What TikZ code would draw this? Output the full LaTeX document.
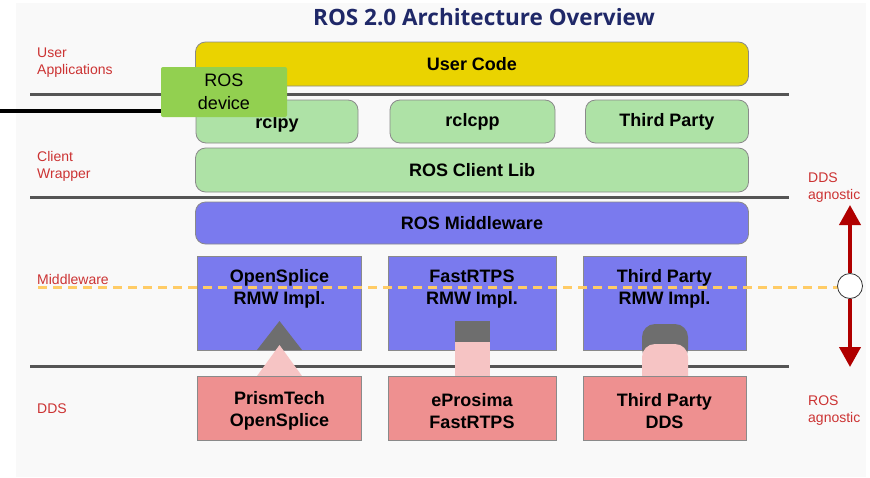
\documentclass[tikz,border=0pt]{standalone}
\usepackage{fontspec}
\setmainfont{Liberation Sans}
\newfontfamily\titlefont{Open Sans}
\usetikzlibrary{arrows.meta}
\definecolor{panel}{HTML}{F9F9F9}
\definecolor{navy}{HTML}{1F2868}
\definecolor{ucyellow}{HTML}{EAD300}
\definecolor{lgreen}{HTML}{AEE2A6}
\definecolor{devgreen}{HTML}{92D050}
\definecolor{mwblue}{HTML}{7A7AEE}
\definecolor{ddsred}{HTML}{EE9090}
\definecolor{lblred}{HTML}{CC3333}
\definecolor{sepgray}{HTML}{555555}
\definecolor{bordergray}{HTML}{8A8A8A}
\definecolor{conngray}{HTML}{6E6E6E}
\definecolor{connpink}{HTML}{F6C4C4}
\definecolor{dashorange}{HTML}{FFCC66}
\definecolor{arrowred}{HTML}{B00000}
\begin{document}
\begin{tikzpicture}[x=1pt,y=-1pt,
  boxtext/.style={font=\fontsize{18}{22}\selectfont\bfseries, align=center, text=black},
  rbox/.style={draw=bordergray, line width=0.8pt, rounded corners=10pt, inner sep=0pt},
  sbox/.style={draw=bordergray, line width=0.8pt, inner sep=0pt},
  sepline/.style={draw=sepgray, line width=3pt},
  sidelabel/.style={font=\fontsize{14}{17}\selectfont, text=lblred, align=left, anchor=west, inner sep=0pt},
  redline/.style={draw=arrowred, line width=4pt},
]
\useasboundingbox (0,0) rectangle (870,477);
\fill[white] (0,0) rectangle (870,477);
\fill[panel] (16,3) rectangle (866,477);

% title
\node[font=\titlefont\bfseries\fontsize{22.5}{26}\selectfont, text=navy] (title) at (484,17) {ROS 2.0 Architecture Overview};

% separator lines
\coordinate (s1a) at (30,94);  \coordinate (s1b) at (789,94);
\coordinate (s2a) at (30,197); \coordinate (s2b) at (789,197);
\coordinate (s3a) at (30,366); \coordinate (s3b) at (789,366);
\draw[sepline] (s1a) -- (s1b);
\draw[sepline] (s2a) -- (s2b);
\draw[sepline] (s3a) -- (s3b);

% dashed middleware line
\coordinate (da) at (38,287); \coordinate (db) at (838,287);

% side labels
\node[sidelabel] (lua) at (37,63) {User\\Applications};
\node[sidelabel] (lcw) at (37,166.5) {Client\\Wrapper};
\node[sidelabel] (lmw) at (37,279) {Middleware};
\node[sidelabel] (ldds) at (37,409) {DDS};
\node[sidelabel] (ldag) at (808,188) {DDS\\agnostic};
\node[sidelabel] (lrag) at (808,411) {ROS\\agnostic};

% upper boxes
\node[rbox, fill=ucyellow, minimum width=553pt, minimum height=44pt] (user) at (472,64) {};
\node[boxtext] at (user.center) {User Code};
\node[rbox, fill=lgreen, minimum width=162pt, minimum height=43pt] (rclpy) at (277,121.5) {};
\node[boxtext, anchor=center] at (277,124) {rclpy};
\node[rbox, fill=lgreen, minimum width=165pt, minimum height=43pt] (rclcpp) at (472.5,121.5) {};
\node[boxtext] at (rclcpp.center) {rclcpp};
\node[rbox, fill=lgreen, minimum width=163pt, minimum height=43pt] (tp) at (667,121.5) {};
\node[boxtext] at (tp.center) {Third Party};
\node[rbox, fill=lgreen, minimum width=553pt, minimum height=44pt] (rcl) at (472,170) {};
\node[boxtext] at (rcl.center) {ROS Client Lib};
\node[rbox, fill=mwblue, minimum width=553pt, minimum height=42pt] (rmw) at (472,223) {};
\node[boxtext] at (rmw.center) {ROS Middleware};

% RMW implementation boxes
\node[sbox, fill=mwblue, minimum width=164pt, minimum height=94pt] (osr) at (279.5,303) {};
\node[sbox, fill=mwblue, minimum width=168pt, minimum height=94pt] (fr) at (472,303) {};
\node[sbox, fill=mwblue, minimum width=163pt, minimum height=94pt] (tpr) at (664.5,303) {};

\draw[dashorange, line width=3pt, dash pattern=on 9pt off 6pt] (da) -- (db);

\node[boxtext] at (279.5,289) {OpenSplice\\RMW Impl.};
\node[boxtext] at (472,289) {FastRTPS\\RMW Impl.};
\node[boxtext] at (664.5,289) {Third Party\\RMW Impl.};

% connectors
\fill[conngray] (279.5,321) -- (302,350) -- (257,350) -- cycle;
\fill[connpink] (279.5,345) -- (302,376) -- (257,376) -- cycle;
\fill[conngray] (455,321) rectangle (490,343);
\fill[connpink] (455,342) rectangle (490,376);
\fill[conngray, rounded corners=13pt] (642,362) -- (642,324) -- (688,324) -- (688,362) -- cycle;
\fill[connpink, rounded corners=13pt] (642,395) -- (642,344) -- (688,344) -- (688,395) -- cycle;

% DDS boxes
\node[sbox, fill=ddsred, minimum width=164pt, minimum height=64pt] (osd) at (279.5,408) {};
\node[boxtext] at (279.5,411) {PrismTech\\OpenSplice};
\node[sbox, fill=ddsred, minimum width=168pt, minimum height=64pt] (fd) at (472,408) {};
\node[boxtext] at (472,411) {eProsima\\FastRTPS};
\node[sbox, fill=ddsred, minimum width=163pt, minimum height=64pt] (tpd) at (664.5,408) {};
\node[boxtext] at (664.5,411) {Third Party\\DDS};

% agnostic arrow
\coordinate (atop) at (850,205);
\coordinate (abot) at (850,367);
\node[circle, draw=black!80, line width=0.8pt, fill=white, minimum size=25pt, inner sep=0pt] (amid) at (850,286) {};
\draw[redline, -{Triangle[width=21pt,length=20pt]}] (amid) -- (atop);
\draw[redline, -{Triangle[width=21pt,length=20pt]}] (amid) -- (abot);

% ROS device
\coordinate (wire) at (0,111);
\node[fill=devgreen, rounded corners=2pt, minimum width=126pt, minimum height=50pt, inner sep=0pt] (dev) at (224,92) {};
\node[font=\fontsize{18}{23}\selectfont, align=center] at (dev.center) {ROS\\device};
\draw[black, line width=4.5pt] (wire) -- (wire -| dev.west);
\end{tikzpicture}
\end{document}
